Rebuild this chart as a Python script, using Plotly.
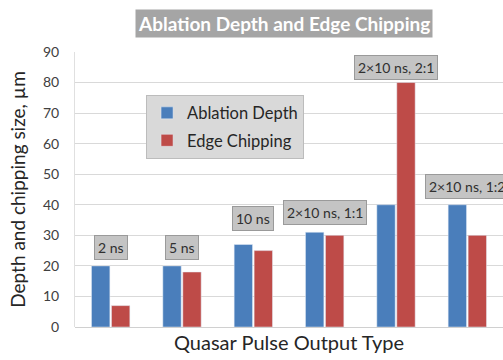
import plotly.graph_objects as go

categories = ["2 ns", "5 ns", "10 ns", "2×10 ns, 1:1", "2×10 ns, 2:1", "2×10 ns, 1:2"]
ablation_depth = [20, 20, 27, 31, 40, 40]
edge_chipping = [7, 18, 25, 30, 80, 30]
label_y = [26, 26, 35.5, 37.5, 85, 46]
y_ticks = [0, 10, 20, 30, 40, 50, 60, 70, 80, 90]

FONT = "Lato, 'Open Sans', sans-serif"

fig = go.Figure()
fig.add_trace(go.Bar(x=categories, y=ablation_depth, name="Ablation Depth",
                     marker=dict(color="#4a7ebb"), legendgroup="a"))
fig.add_trace(go.Bar(x=categories, y=edge_chipping, name="Edge Chipping",
                     marker=dict(color="#be4b48"), legendgroup="b"))

for c, ly in zip(categories, label_y):
    fig.add_annotation(x=c, y=ly, xref="x", yref="y", text=c, showarrow=False,
                       font=dict(family=FONT, size=14, color="#303030"),
                       bgcolor="#c4c4c4", bordercolor="#9a9a9a", borderwidth=1,
                       borderpad=3, xanchor="center", yanchor="middle")

fig.add_annotation(xref="paper", yref="paper",
                   x=(284 - 75) / 428, y=(327 - 23.5) / 275,
                   xanchor="center", yanchor="middle",
                   text="<b>Ablation Depth and Edge Chipping</b>",
                   showarrow=False, font=dict(family=FONT, size=19, color="white"),
                   bgcolor="#a5a5a5", borderpad=2)

fig.update_layout(
    width=503, height=360,
    margin=dict(l=75, r=0, t=52, b=33),
    paper_bgcolor="white", plot_bgcolor="white",
    barmode="group", bargap=0.44, bargroupgap=0.08,
    font=dict(family=FONT, color="#404040"),
    legend=dict(x=0.166, y=0.845, xanchor="left", yanchor="top",
                bgcolor="#d9d9d9", bordercolor="#bcbcbc", borderwidth=1,
                font=dict(family=FONT, size=16.5, color="#262626"),
                tracegroupgap=3, itemwidth=30),
    xaxis=dict(range=[-0.5, 5.5], showticklabels=False, ticks="",
               showline=False, showgrid=False, automargin=False,
               title=dict(text="Quasar Pulse Output Type", standoff=8,
                          font=dict(family=FONT, size=20, color="#262626"))),
    yaxis=dict(range=[0, 90], tickvals=y_ticks, showgrid=True, gridcolor="#d9d9d9",
               gridwidth=1, zeroline=True, zerolinecolor="#d0d0d0", zerolinewidth=1,
               showline=True, linecolor="#e0e0e0", ticks="", automargin=False,
               ticklabelstandoff=12,
               tickfont=dict(family=FONT, size=14, color="#404040"),
               title=dict(text="Depth and chipping size, µm", standoff=12,
                          font=dict(family=FONT, size=19, color="#262626"))),
)

fig.write_html("out.html", config={"displayModeBar": False},
               post_script="document.body.style.margin='0';")
